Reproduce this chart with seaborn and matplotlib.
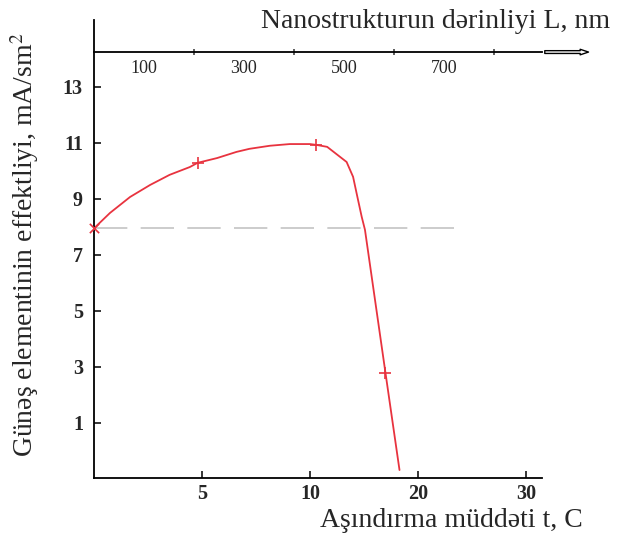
import numpy as np
import pandas as pd
import seaborn as sns
import matplotlib.pyplot as plt

# etching time t (C) vs solar element efficiency (mA/sm^2)
t_curve = [0, 0.74, 1.67, 2.6, 3.5, 4.44, 4.8, 5.7, 6.6, 7.2, 8.15, 9.07, 10.0, 10.6, 11.6,
           13.4, 14.0, 14.4, 14.8, 15.1, 17.0, 18.3]
eff_curve = [7.95, 8.5, 9.07, 9.5, 9.86, 10.14, 10.29, 10.46, 10.68, 10.79, 10.9, 10.96, 10.96, 10.93, 10.86,
             10.32, 9.79, 9.07, 8.36, 7.9, 2.79, -0.68]
t_marks = [4.8, 10.6, 17.0]
eff_marks = [10.29, 10.93, 2.79]
start_t, start_eff = 0, 7.95
ref_t = [0, 23.6]
ref_eff = [7.95, 7.95]

x_ticks = [5, 10, 20, 30]
y_ticks = [1, 3, 5, 7, 9, 11, 13]
nm_labels = [100, 300, 500, 700]
nm_minor = [200, 400, 600, 800]

# the time axis is spaced evenly between 0, 5, 10, 20, 30
t_knots = [0, 5, 10, 20, 30, 40]
p_knots = [0, 1, 2, 3, 4, 5]


def fwd(t):
    return np.interp(t, t_knots, p_knots)


def inv(p):
    return np.interp(p, p_knots, t_knots)


sns.set_style("ticks")
plt.rcParams['font.family'] = ['Liberation Serif', 'DejaVu Serif']
plt.rcParams['mathtext.fontset'] = 'stix'

fig = plt.figure(figsize=(6.2, 5.39), dpi=100)
ax = fig.add_axes([0.1516, 0.1132, 0.7226, 0.8497])
ax.set_xscale('function', functions=(fwd, inv))

red = '#e8333f'
df = pd.DataFrame({'t': t_curve, 'eff': eff_curve})
sns.lineplot(data=df, x='t', y='eff', sort=False, color=red, lw=1.3, ax=ax)
sns.scatterplot(x=t_marks, y=eff_marks, marker='+', s=80, color=red, linewidth=1.2, ax=ax, zorder=3)
sns.scatterplot(x=[start_t], y=[start_eff], marker='x', s=45, color=red, linewidth=1.2, ax=ax, zorder=3, clip_on=False)
ax.plot(ref_t, ref_eff, color='#c4c4c4', lw=1.2, dashes=(20, 8), zorder=1)

ax.set_xlim(0, 31.5)
ax.set_ylim(-0.964, 15.39)
ax.set_xticks(x_ticks)
ax.set_xticklabels([str(v) for v in x_ticks], fontweight='bold', fontsize=14.5)
ax.set_yticks(y_ticks)
ax.set_yticklabels([str(v) for v in y_ticks], fontweight='bold', fontsize=14.5)
ax.tick_params(axis='both', direction='in', length=5, width=1.1, color='black', pad=8)
ax.tick_params(axis='x', pad=4)
for s in ['top', 'right']:
    ax.spines[s].set_visible(False)
for s in ['left', 'bottom']:
    ax.spines[s].set_color('black')
    ax.spines[s].set_linewidth(1.3)

ax.set_xlabel('Aşındırma müddəti t, C', fontsize=20, ha='right', va='center')
ax.xaxis.set_label_coords(1.09, -0.092)
ax.set_ylabel('Günəş elementinin effektliyi, mA/sm$^2$', fontsize=20, va='center')
ax.yaxis.set_label_coords(-0.156, 0.51)

# depth axis on top
ax2 = ax.twiny()
ax2.set_xlim(0, 896)
for s in ['left', 'right', 'bottom']:
    ax2.spines[s].set_visible(False)
ax2.spines['top'].set_position(('axes', 0.93))
ax2.spines['top'].set_color('black')
ax2.spines['top'].set_linewidth(1.3)
ax2.set_xticks(nm_labels)
ax2.set_xticklabels([str(v) for v in nm_labels], fontsize=13)
ax2.set_xticks(nm_minor, minor=True)
ax2.tick_params(axis='x', which='major', length=0, pad=-18)
ax2.tick_params(axis='x', which='minor', direction='inout', length=4, width=1.1, color='#333333')
ax2.set_xlabel('Nanostrukturun dərinliyi L, nm', fontsize=20, ha='right', va='center')
ax2.xaxis.set_label_coords(1.152, 0.996)
ax2.annotate('', xy=(1.11, 0.93), xytext=(1.0, 0.93), xycoords='axes fraction',
             arrowprops=dict(arrowstyle='simple,head_length=0.6,head_width=0.4,tail_width=0.2',
                             fc='white', ec='black', lw=1.0), annotation_clip=False)

fig.savefig('out.png', dpi=100)
